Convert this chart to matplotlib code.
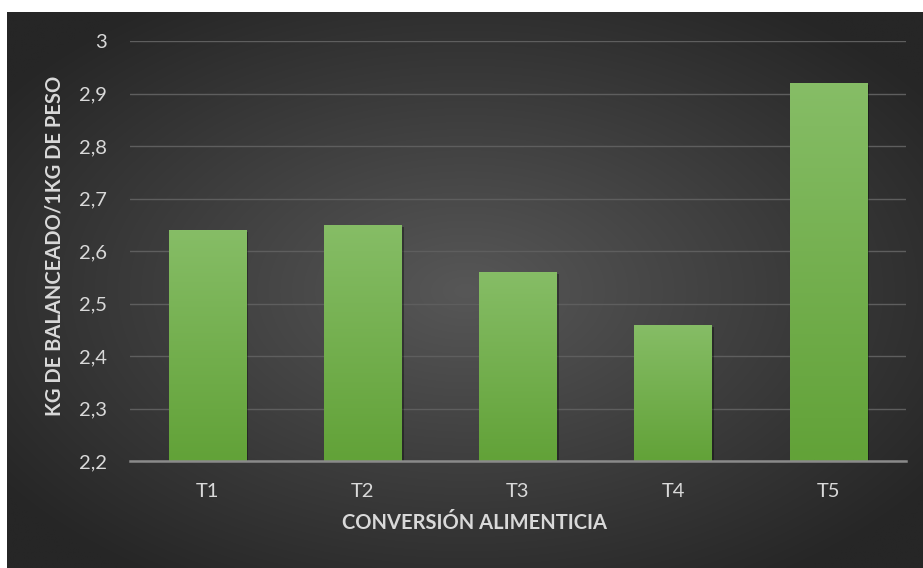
import numpy as np
import matplotlib
matplotlib.use("Agg")
import matplotlib.pyplot as plt
from matplotlib import patheffects as pe

categories = ["T1", "T2", "T3", "T4", "T5"]
values = [2.64, 2.65, 2.56, 2.46, 2.92]
yticks = [2.2, 2.3, 2.4, 2.5, 2.6, 2.7, 2.8, 2.9, 3.0]
ytick_labels = ["2,2", "2,3", "2,4", "2,5", "2,6", "2,7", "2,8", "2,9", "3"]
xlabel = "CONVERSIÓN ALIMENTICIA"
ylabel = "KG DE BALANCEADO/1KG DE PESO"

plt.rcParams['font.family'] = ['Lato', 'DejaVu Sans']

W, H = 923, 568
fig = plt.figure(figsize=(W / 100, H / 100), dpi=100, facecolor="white")

# background with radial gradient
bg = fig.add_axes([7 / W, 0, 1 - 7 / W, 1 - 12 / H])
bg.set_axis_off()
ny, nx = 300, 500
yy, xx = np.mgrid[0:ny, 0:nx]
cx, cy = nx * 0.50, ny * 0.50
r = np.sqrt(((xx - cx) / (nx * 0.62)) ** 2 + ((yy - cy) / (ny * 0.62)) ** 2)
r = np.clip(r, 0, 1)
inner = np.array([0x57, 0x57, 0x57]) / 255
outer = np.array([0x26, 0x26, 0x26]) / 255
img = inner[None, None, :] * (1 - r[..., None]) + outer[None, None, :] * r[..., None]
bg.imshow(img, aspect="auto", extent=[0, 1, 0, 1], interpolation="bilinear")
bg.set_xlim(0, 1)
bg.set_ylim(0, 1)

ax = fig.add_axes([130 / W, 1 - 461 / H, (906 - 130) / W, (461 - 41) / H])
ax.patch.set_alpha(0)
x = np.arange(len(categories))
bars = ax.bar(x, [v - 2.2 for v in values], bottom=2.2, width=0.5,
              color="#74b04f", zorder=3)
top_c = np.array([0x86, 0xbd, 0x66]) / 255
bot_c = np.array([0x62, 0xa2, 0x38]) / 255
for b in bars:
    b.set_path_effects([pe.SimplePatchShadow(offset=(1.5, -1.5), shadow_rgbFace="black", alpha=0.35), pe.Normal()])
    x0, y0 = b.get_x(), b.get_y()
    w, h = b.get_width(), b.get_height()
    t = np.linspace(0, 1, 100)[:, None]
    grad = top_c[None, None, :] * (1 - t[..., None]) + bot_c[None, None, :] * t[..., None]
    grad = np.repeat(grad, 2, axis=1)
    im = ax.imshow(grad, aspect="auto", extent=[x0, x0 + w, y0, y0 + h],
                   zorder=4, interpolation="bilinear")
    im.set_clip_path(b)

ax.set_xlim(-0.5, len(categories) - 0.5)
ax.set_ylim(2.2, 3.0)
ax.set_yticks(yticks)
ax.set_yticklabels(ytick_labels)
ax.set_xticks(x)
ax.set_xticklabels(categories)
ax.grid(axis="y", color="#5e5e5e", linewidth=1.0, zorder=1)
ax.set_axisbelow(True)
for s in ["top", "right", "left"]:
    ax.spines[s].set_visible(False)
ax.spines["bottom"].set_color("#8a8a8a")
ax.spines["bottom"].set_linewidth(1.8)
ax.spines["bottom"].set_zorder(5)
ax.tick_params(axis="both", length=0, colors="#d9d9d9", labelsize=14.5)
ax.tick_params(axis="y", pad=16.5)
ax.tick_params(axis="x", pad=16)
ax.set_xlabel(xlabel, fontsize=14.5, fontweight="bold", color="#d9d9d9")
ax.set_ylabel(ylabel, fontsize=14.5, fontweight="bold", color="#d9d9d9")
ax.xaxis.set_label_coords((474 - 130) / 776, (461 - 523) / 420)
ax.xaxis.label.set_va("center")
ax.yaxis.set_label_coords((55 - 130) / 776, (461 - 246) / 420)
ax.yaxis.label.set_va("center")
ax.yaxis.label.set_ha("center")

fig.savefig("out.png", dpi=100, facecolor="white")
